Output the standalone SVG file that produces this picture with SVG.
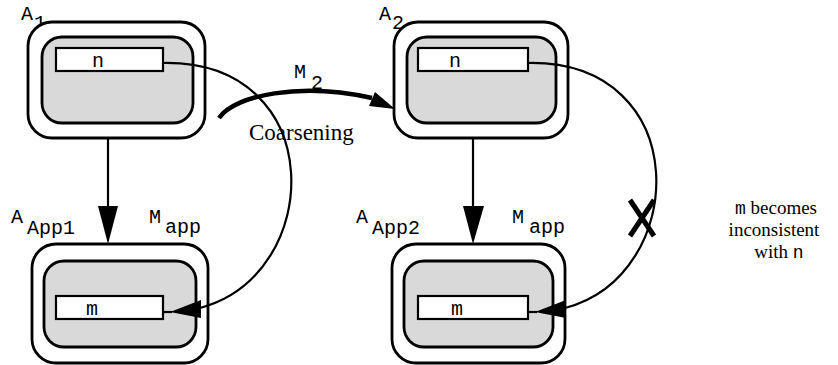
<svg xmlns="http://www.w3.org/2000/svg" width="838" height="365" viewBox="0 0 838 365">
<style>
.outer{fill:#fff;stroke:#000;stroke-width:2.8}
.inner{fill:#d9d9d9;stroke:#000;stroke-width:2.8}
.field{fill:#fff;stroke:#000;stroke-width:2.2}
.mono{font-family:"Liberation Mono","Courier New",monospace;font-size:20px;fill:#000}
.serif{font-family:"Liberation Serif","Times New Roman",serif;font-size:22px;fill:#000}
.note{font-family:"Liberation Serif","Times New Roman",serif;font-size:19px;fill:#000}
.note .mono{font-size:18px}
.wire{fill:none;stroke:#000;stroke-width:2.2}
.head{fill:#000;stroke:none}
</style>
<rect width="838" height="365" fill="#fff"/>

<g id="A1">
<text class="mono" x="21" y="20">A</text><text class="mono" x="34" y="29">1</text>
<rect class="outer" x="28" y="22" width="177" height="116" rx="24"/>
<rect class="inner" x="42" y="37" width="151" height="86" rx="20"/>
<rect class="field" x="56" y="48" width="107" height="23"/>
<text class="mono" x="98" y="67" text-anchor="middle">n</text>
</g>

<g id="A2">
<text class="mono" x="379" y="20">A</text><text class="mono" x="392" y="29">2</text>
<rect class="outer" x="394" y="22" width="174" height="116" rx="24"/>
<rect class="inner" x="407" y="37" width="149" height="86" rx="20"/>
<rect class="field" x="418" y="48" width="110" height="23"/>
<text class="mono" x="455" y="67" text-anchor="middle">n</text>
</g>

<g id="AApp1">
<text class="mono" x="11" y="223">A</text><text class="mono" x="27" y="234">App1</text>
<text class="mono" x="149" y="223">M</text><text class="mono" x="165" y="233">app</text>
<rect class="outer" x="32" y="244" width="176" height="119" rx="24"/>
<rect class="inner" x="44" y="261" width="152" height="86" rx="20"/>
<rect class="field" x="56" y="296" width="107" height="23"/>
<text class="mono" x="92" y="315" text-anchor="middle">m</text>
</g>

<g id="AApp2">
<text class="mono" x="356" y="223">A</text><text class="mono" x="372" y="234">App2</text>
<text class="mono" x="512" y="223">M</text><text class="mono" x="529" y="233">app</text>
<rect class="outer" x="392" y="244" width="173" height="119" rx="24"/>
<rect class="inner" x="404" y="261" width="149" height="86" rx="20"/>
<rect class="field" x="418" y="296" width="110" height="23"/>
<text class="mono" x="457" y="315" text-anchor="middle">m</text>
</g>

<g id="note">
<text class="note" x="776" y="214" text-anchor="middle"><tspan class="mono">m</tspan> becomes</text>
<text class="note" x="774" y="236" text-anchor="middle">inconsistent</text>
<text class="note" x="779" y="258" text-anchor="middle">with <tspan class="mono">n</tspan></text>
</g>

<g id="connectors">
<line class="wire" x1="108" y1="138" x2="108" y2="208"/>
<polygon class="head" points="98,206 118,206 108,244"/>
<line class="wire" x1="473" y1="138" x2="473" y2="208"/>
<polygon class="head" points="463,206 484,206 473,244"/>

<path d="M219,118 C235,95 300,82 372,98" fill="none" stroke="#000" stroke-width="4.5"/>
<polygon class="head" points="395,109 369,106 375,92"/>
<text class="mono" x="294" y="78">M</text><text class="mono" x="311" y="89">2</text>
<text class="serif" x="249" y="140" style="font-size:23px">Coarsening</text>

<path class="wire" d="M163,63 C330,60 325,275 200,308"/>
<polygon class="head" points="201,300 201,318 170,312"/>
<line class="wire" x1="172" y1="312" x2="164" y2="312"/>

<path class="wire" d="M528,63 C695,60 690,275 565,308"/>
<polygon class="head" points="566,300 566,318 535,312"/>
<line class="wire" x1="537" y1="312" x2="529" y2="312"/>

<line x1="630" y1="200" x2="654" y2="236" stroke="#000" stroke-width="5"/>
<line x1="654" y1="200" x2="630" y2="236" stroke="#000" stroke-width="5"/>
</g>
</svg>
